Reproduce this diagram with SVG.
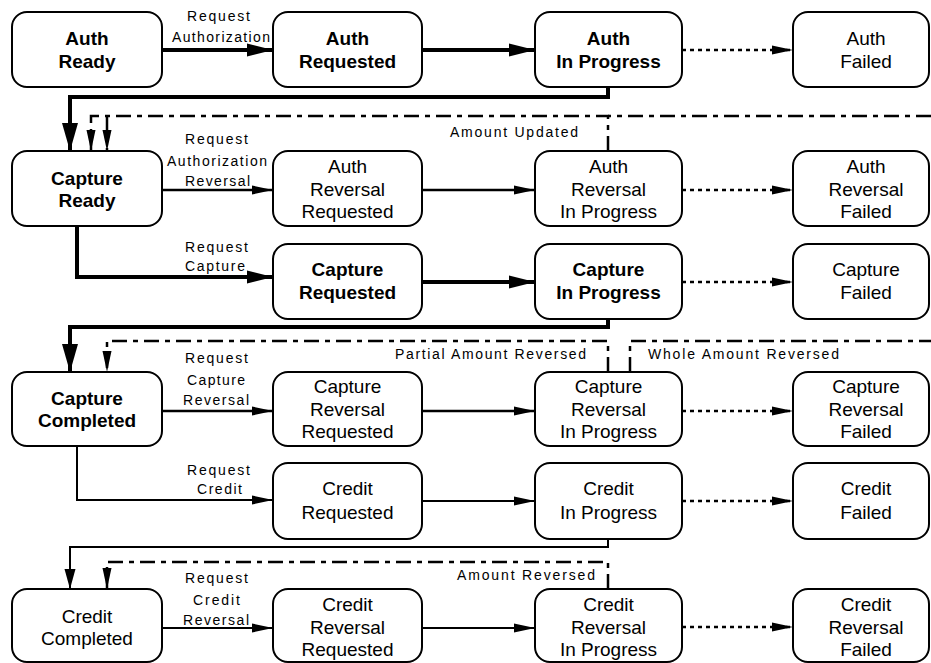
<svg xmlns="http://www.w3.org/2000/svg" width="931" height="663" viewBox="0 0 931 663">
  <defs>
    <style>
      .box { fill: #fff; stroke: #000; stroke-width: 2; }
      .t { font-family: "Liberation Sans", Arial, sans-serif; font-size: 19px; text-anchor: middle; fill: #000; }
      .b { font-weight: bold; }
      .lbl { font-family: "Liberation Sans", Arial, sans-serif; font-size: 14px; fill: #000; }
      .c { fill: none; stroke: #000; }
      .bold { stroke-width: 4; }
      .mid { stroke-width: 2.5; }
      .thin { stroke-width: 2; }
      .dot { stroke-width: 2.5; stroke-dasharray: 4 4; }
      .dd { stroke-width: 2.5; stroke-dasharray: 15 6 5 6; }
    </style>
    <marker id="ah-big" markerUnits="userSpaceOnUse" viewBox="0 0 27 14" markerWidth="27" markerHeight="14" refX="26" refY="7" orient="auto">
      <path d="M0,0.5 L26,7 L0,13.5 z" fill="#000"/>
    </marker>
    <marker id="ah-drop" markerUnits="userSpaceOnUse" viewBox="0 0 29 17" markerWidth="29" markerHeight="17" refX="28" refY="8.5" orient="auto">
      <path d="M0,0.5 L28,8.5 L0,16.5 z" fill="#000"/>
    </marker>
    <marker id="ah-mid" markerUnits="userSpaceOnUse" viewBox="0 0 21 12" markerWidth="21" markerHeight="12" refX="20" refY="6" orient="auto">
      <path d="M0,0.5 L20,6 L0,11.5 z" fill="#000"/>
    </marker>
    <marker id="ah-small" markerUnits="userSpaceOnUse" viewBox="0 0 22 10" markerWidth="22" markerHeight="10" refX="21" refY="5" orient="auto">
      <path d="M0,0.5 L21,5 L0,9.5 z" fill="#000"/>
    </marker>
  </defs>

  <rect width="931" height="663" fill="#fff"/>

  <!-- connectors -->
  <g id="connectors">
    <!-- main authorization / capture path -->
    <path class="c bold" d="M162,50 H273" marker-end="url(#ah-big)"/>
    <path class="c bold" d="M422,50 H535" marker-end="url(#ah-big)"/>
    <path class="c bold" d="M608,87 V97 H70 V151" marker-end="url(#ah-drop)"/>
    <path class="c bold" d="M77,226 V277 H273" marker-end="url(#ah-big)"/>
    <path class="c bold" d="M422,282 H535" marker-end="url(#ah-big)"/>
    <path class="c bold" d="M608,319 V327 H70 V372" marker-end="url(#ah-drop)"/>

    <!-- reversal requests -->
    <path class="c mid" d="M162,190 H273" marker-end="url(#ah-small)"/>
    <path class="c mid" d="M422,190 H535" marker-end="url(#ah-small)"/>
    <path class="c mid" d="M162,411 H273" marker-end="url(#ah-small)"/>
    <path class="c mid" d="M422,411 H535" marker-end="url(#ah-small)"/>

    <!-- credit path -->
    <path class="c thin" d="M77,446 V500 H273" marker-end="url(#ah-small)"/>
    <path class="c thin" d="M422,501 H535" marker-end="url(#ah-small)"/>
    <path class="c thin" d="M608,539 V547 H70 V589" marker-end="url(#ah-mid)"/>
    <path class="c thin" d="M162,628 H273" marker-end="url(#ah-small)"/>
    <path class="c thin" d="M422,628 H535" marker-end="url(#ah-small)"/>

    <!-- failures -->
    <path class="c dot" d="M682,50 H793" marker-end="url(#ah-small)"/>
    <path class="c dot" d="M682,190 H793" marker-end="url(#ah-small)"/>
    <path class="c dot" d="M682,282 H793" marker-end="url(#ah-small)"/>
    <path class="c dot" d="M682,411 H793" marker-end="url(#ah-small)"/>
    <path class="c dot" d="M682,501 H793" marker-end="url(#ah-small)"/>
    <path class="c dot" d="M682,627 H793" marker-end="url(#ah-small)"/>

    <!-- reversal outcomes -->
    <path class="c dd" d="M608,151 V116 H91 V151" marker-end="url(#ah-small)"/>
    <path class="c dd" d="M931,116 H608"/>
    <path class="c dd" d="M107,116 V151" marker-end="url(#ah-small)"/>
    <path class="c dd" d="M608,372 V341 H107 V372" marker-end="url(#ah-small)"/>
    <path class="c dd" d="M630,372 V341 H931"/>
    <path class="c dd" d="M608,589 V562 H107 V589" marker-end="url(#ah-small)"/>

    <!-- labels -->
    <text class="lbl" x="187" y="21" textLength="63" lengthAdjust="spacing">Request</text>
    <text class="lbl" x="172" y="42" textLength="98" lengthAdjust="spacing">Authorization</text>

    <text class="lbl" x="185" y="144" textLength="63" lengthAdjust="spacing">Request</text>
    <text class="lbl" x="167" y="166" textLength="100" lengthAdjust="spacing">Authorization</text>
    <text class="lbl" x="185" y="186" textLength="65" lengthAdjust="spacing">Reversal</text>

    <text class="lbl" x="185" y="252" textLength="63" lengthAdjust="spacing">Request</text>
    <text class="lbl" x="185" y="271" textLength="60" lengthAdjust="spacing">Capture</text>

    <text class="lbl" x="185" y="363" textLength="63" lengthAdjust="spacing">Request</text>
    <text class="lbl" x="187" y="385" textLength="58" lengthAdjust="spacing">Capture</text>
    <text class="lbl" x="183" y="405" textLength="66" lengthAdjust="spacing">Reversal</text>

    <text class="lbl" x="187" y="475" textLength="63" lengthAdjust="spacing">Request</text>
    <text class="lbl" x="197" y="494" textLength="45" lengthAdjust="spacing">Credit</text>

    <text class="lbl" x="185" y="583" textLength="63" lengthAdjust="spacing">Request</text>
    <text class="lbl" x="193" y="605" textLength="47" lengthAdjust="spacing">Credit</text>
    <text class="lbl" x="183" y="625" textLength="66" lengthAdjust="spacing">Reversal</text>

    <text class="lbl" x="450" y="137" textLength="128" lengthAdjust="spacing">Amount Updated</text>
    <text class="lbl" x="395" y="359" textLength="191" lengthAdjust="spacing">Partial Amount Reversed</text>
    <text class="lbl" x="648" y="359" textLength="191" lengthAdjust="spacing">Whole Amount Reversed</text>
    <text class="lbl" x="457" y="580" textLength="138" lengthAdjust="spacing">Amount Reversed</text>
  </g>

  <!-- row 1 -->
  <g id="auth-ready">
    <rect class="box" x="12" y="12" width="150" height="75" rx="15"/>
    <text class="t b"><tspan x="87" y="45">Auth</tspan><tspan x="87" y="68">Ready</tspan></text>
  </g>
  <g id="auth-requested">
    <rect class="box" x="273" y="12" width="149" height="75" rx="15"/>
    <text class="t b"><tspan x="347.5" y="45">Auth</tspan><tspan x="347.5" y="68">Requested</tspan></text>
  </g>
  <g id="auth-in-progress">
    <rect class="box" x="535" y="12" width="147" height="75" rx="15"/>
    <text class="t b"><tspan x="608.5" y="45">Auth</tspan><tspan x="608.5" y="68">In Progress</tspan></text>
  </g>
  <g id="auth-failed">
    <rect class="box" x="793" y="12" width="136" height="75" rx="15"/>
    <text class="t"><tspan x="866" y="45">Auth</tspan><tspan x="866" y="68">Failed</tspan></text>
  </g>

  <!-- row 2 -->
  <g id="capture-ready">
    <rect class="box" x="12" y="151" width="150" height="75" rx="15"/>
    <text class="t b"><tspan x="87" y="185">Capture</tspan><tspan x="87" y="207">Ready</tspan></text>
  </g>
  <g id="auth-reversal-requested">
    <rect class="box" x="273" y="151" width="149" height="75" rx="15"/>
    <text class="t"><tspan x="347.5" y="173">Auth</tspan><tspan x="347.5" y="196">Reversal</tspan><tspan x="347.5" y="218">Requested</tspan></text>
  </g>
  <g id="auth-reversal-in-progress">
    <rect class="box" x="535" y="151" width="147" height="75" rx="15"/>
    <text class="t"><tspan x="608.5" y="173">Auth</tspan><tspan x="608.5" y="196">Reversal</tspan><tspan x="608.5" y="218">In Progress</tspan></text>
  </g>
  <g id="auth-reversal-failed">
    <rect class="box" x="793" y="151" width="136" height="75" rx="15"/>
    <text class="t"><tspan x="866" y="173">Auth</tspan><tspan x="866" y="196">Reversal</tspan><tspan x="866" y="218">Failed</tspan></text>
  </g>

  <!-- row 3 -->
  <g id="capture-requested">
    <rect class="box" x="273" y="244" width="149" height="75" rx="15"/>
    <text class="t b"><tspan x="347.5" y="276">Capture</tspan><tspan x="347.5" y="299">Requested</tspan></text>
  </g>
  <g id="capture-in-progress">
    <rect class="box" x="535" y="244" width="147" height="75" rx="15"/>
    <text class="t b"><tspan x="608.5" y="276">Capture</tspan><tspan x="608.5" y="299">In Progress</tspan></text>
  </g>
  <g id="capture-failed">
    <rect class="box" x="793" y="244" width="136" height="75" rx="15"/>
    <text class="t"><tspan x="866" y="276">Capture</tspan><tspan x="866" y="299">Failed</tspan></text>
  </g>

  <!-- row 4 -->
  <g id="capture-completed">
    <rect class="box" x="12" y="372" width="150" height="74" rx="15"/>
    <text class="t b"><tspan x="87" y="405">Capture</tspan><tspan x="87" y="427">Completed</tspan></text>
  </g>
  <g id="capture-reversal-requested">
    <rect class="box" x="273" y="372" width="149" height="74" rx="15"/>
    <text class="t"><tspan x="347.5" y="393">Capture</tspan><tspan x="347.5" y="416">Reversal</tspan><tspan x="347.5" y="438">Requested</tspan></text>
  </g>
  <g id="capture-reversal-in-progress">
    <rect class="box" x="535" y="372" width="147" height="74" rx="15"/>
    <text class="t"><tspan x="608.5" y="393">Capture</tspan><tspan x="608.5" y="416">Reversal</tspan><tspan x="608.5" y="438">In Progress</tspan></text>
  </g>
  <g id="capture-reversal-failed">
    <rect class="box" x="793" y="372" width="136" height="74" rx="15"/>
    <text class="t"><tspan x="866" y="393">Capture</tspan><tspan x="866" y="416">Reversal</tspan><tspan x="866" y="438">Failed</tspan></text>
  </g>

  <!-- row 5 -->
  <g id="credit-requested">
    <rect class="box" x="273" y="463" width="149" height="76" rx="15"/>
    <text class="t"><tspan x="347.5" y="495">Credit</tspan><tspan x="347.5" y="519">Requested</tspan></text>
  </g>
  <g id="credit-in-progress">
    <rect class="box" x="535" y="463" width="147" height="76" rx="15"/>
    <text class="t"><tspan x="608.5" y="495">Credit</tspan><tspan x="608.5" y="519">In Progress</tspan></text>
  </g>
  <g id="credit-failed">
    <rect class="box" x="793" y="463" width="136" height="76" rx="15"/>
    <text class="t"><tspan x="866" y="495">Credit</tspan><tspan x="866" y="519">Failed</tspan></text>
  </g>

  <!-- row 6 -->
  <g id="credit-completed">
    <rect class="box" x="12" y="589" width="150" height="73" rx="15"/>
    <text class="t"><tspan x="87" y="623">Credit</tspan><tspan x="87" y="645">Completed</tspan></text>
  </g>
  <g id="credit-reversal-requested">
    <rect class="box" x="273" y="589" width="149" height="73" rx="15"/>
    <text class="t"><tspan x="347.5" y="611">Credit</tspan><tspan x="347.5" y="634">Reversal</tspan><tspan x="347.5" y="656">Requested</tspan></text>
  </g>
  <g id="credit-reversal-in-progress">
    <rect class="box" x="535" y="589" width="147" height="73" rx="15"/>
    <text class="t"><tspan x="608.5" y="611">Credit</tspan><tspan x="608.5" y="634">Reversal</tspan><tspan x="608.5" y="656">In Progress</tspan></text>
  </g>
  <g id="credit-reversal-failed">
    <rect class="box" x="793" y="589" width="136" height="73" rx="15"/>
    <text class="t"><tspan x="866" y="611">Credit</tspan><tspan x="866" y="634">Reversal</tspan><tspan x="866" y="656">Failed</tspan></text>
  </g>
</svg>
